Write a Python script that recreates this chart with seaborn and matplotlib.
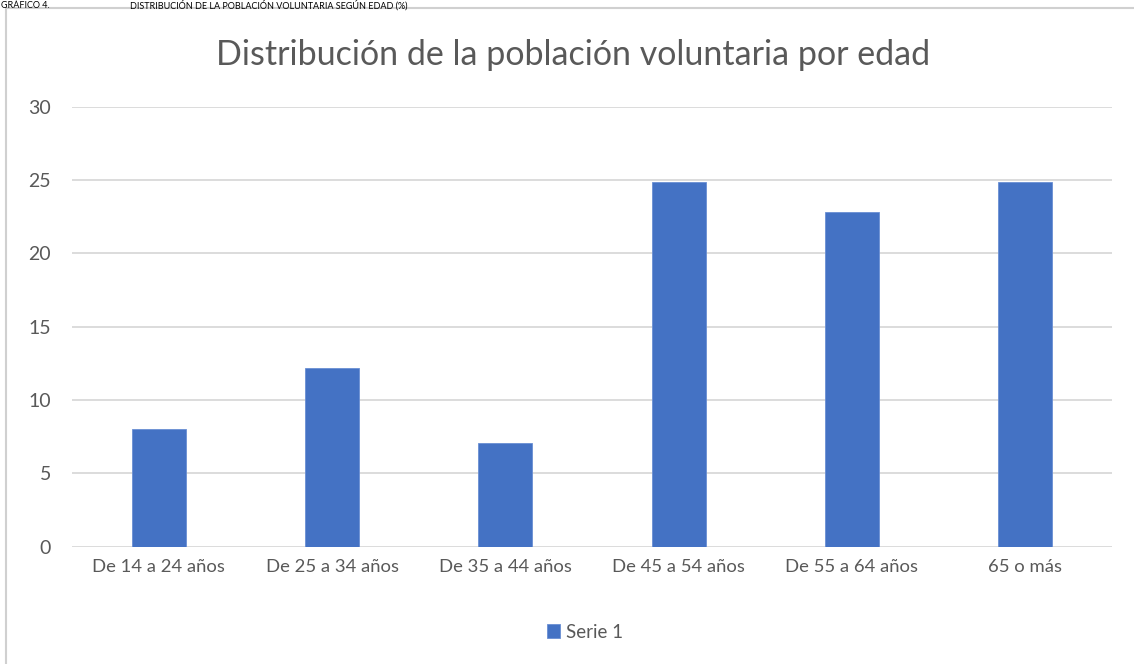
import pandas as pd
import matplotlib.pyplot as plt
import matplotlib.patches as mpatches
import seaborn as sns

# data
categorias = ['De 14 a 24 años', 'De 25 a 34 años', 'De 35 a 44 años',
              'De 45 a 54 años', 'De 55 a 64 años', '65 o más']
valores = [8.0, 12.2, 7.1, 24.9, 22.8, 24.9]
serie = ['Serie 1'] * len(categorias)
y_ticks = [0, 5, 10, 15, 20, 25, 30]

azul = '#4472C4'
gris_texto = '#595959'
gris_grid = '#D9D9D9'

sns.set_style('white')
plt.rcParams['font.family'] = ['Lato', 'DejaVu Sans']

df = pd.DataFrame({'edad': categorias, 'valor': valores, 'serie': serie})

fig = plt.figure(figsize=(11.34, 6.64), dpi=100)
ax = fig.add_axes([72/1134, 1 - 546.7/664, 1040/1134, 440/664])

sns.barplot(data=df, x='edad', y='valor', hue='serie', palette=[azul],
            width=0.31, ax=ax, saturation=1, edgecolor='#6A8FD3', linewidth=0.6)

ax.set_ylim(0, 30)
ax.set_yticks(y_ticks)
ax.set_xlim(-0.5, len(categorias) - 0.5)
ax.yaxis.grid(True, color=gris_grid, linewidth=1.3)
ax.set_axisbelow(True)
for s in ax.spines.values():
    s.set_visible(False)
ax.tick_params(axis='x', length=0, labelsize=13.3, colors=gris_texto, pad=9)
ax.tick_params(axis='y', length=0, labelsize=14, colors=gris_texto, pad=15)
ax.set_xlabel('')
ax.set_ylabel('')

sns.move_legend(ax, 'center', bbox_to_anchor=(0.493, -0.194), frameon=False,
                title=None, fontsize=13.5, handlelength=0.7, handleheight=0.7,
                handletextpad=0.3)
for t in ax.get_legend().get_texts():
    t.set_color(gris_texto)

fig.text(573/1134, 1 - 55/664, 'Distribución de la población voluntaria por edad',
         ha='center', va='center', fontsize=24.5, color=gris_texto)

# outer chart border (light gray)
fig.patches.append(mpatches.Rectangle((6/1134, -0.1), 1.2, 1 - 8/664 + 0.1,
                                      transform=fig.transFigure, fill=False,
                                      edgecolor='#D0D0D0', linewidth=1.5))

# document header above the chart, kept small so it fits on top
fig.text(1/1134, 1 - 0.5/664, 'GRÁFICO 4.', ha='left', va='top',
         fontsize=6.5, color='black')
fig.text(130/1134, 1 - 0.5/664,
         'DISTRIBUCIÓN DE LA POBLACIÓN VOLUNTARIA SEGÚN EDAD (%)',
         ha='left', va='top', fontsize=6.5, color='black')

fig.savefig('out.png', dpi=100)
